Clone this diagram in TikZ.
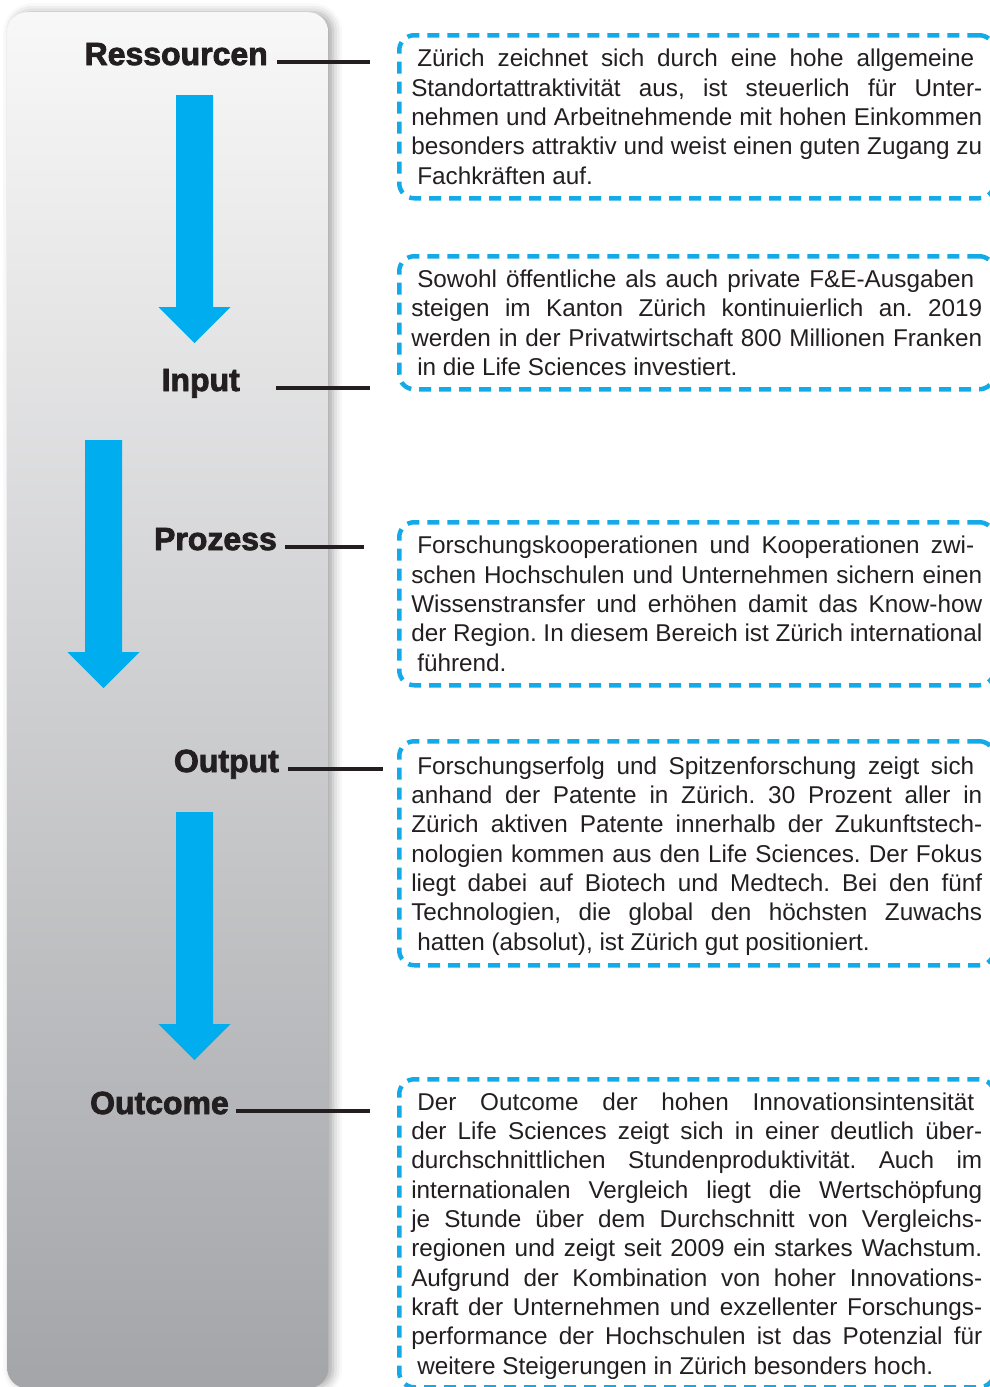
\documentclass[tikz,border=0pt]{standalone}
\usepackage{fontspec}
\setmainfont{Liberation Sans}
\newfontfamily\heavyfont{Liberation Sans}[BoldFeatures={FakeBold=2.5}]
\usepackage{tikz}
\usetikzlibrary{positioning, shadows.blur}
\definecolor{zh-ink}{RGB}{35,31,32}
\definecolor{zh-cyan}{RGB}{0,174,239}
\definecolor{zh-dash}{RGB}{20,170,232}
\definecolor{zh-top}{RGB}{248,248,248}
\definecolor{zh-bottom}{RGB}{164,165,169}
% justified lines of the text boxes
\newcommand\jfull[1]{\makebox[571pt][s]{#1}}
\newcommand\jfirst[1]{\hspace*{6pt}\makebox[557pt][s]{#1}}
\newcommand\jlast[1]{\hspace*{6pt}\smash{#1}}
\tikzset{
  lz@panel/.style={
    rectangle, rounded corners=20pt, inner sep=0pt, anchor=north west,
    minimum width=321pt, minimum height=1376pt,
    top color=zh-top, bottom color=zh-bottom,
    blur shadow={shadow xshift=5pt, shadow yshift=0pt,
                 shadow blur radius=9pt, shadow opacity=35}
  },
  lz@stage/.style={
    anchor=base east, inner sep=0pt, text=zh-ink,
    font=\heavyfont\bfseries\fontsize{32}{36}\selectfont
  },
  lz@info/.style={
    draw=zh-dash, line width=4.5pt, dash pattern=on 12pt off 8pt,
    rounded corners=15pt, minimum width=595pt, inner sep=0pt,
    anchor=north west, align=left, text=zh-ink,
    font=\fontsize{24.3}{29.33}\selectfont\frenchspacing
  },
  lz@lead/.style={draw=zh-ink, line width=4pt},
  lz@down/.pic={
    \fill[zh-cyan] (-18.5,0) -- (-18.5,212) -- (-36,212) -- (0,248)
      -- (36,212) -- (18.5,212) -- (18.5,0) -- cycle;
  },
}

\begin{document}
\begin{tikzpicture}[x=1pt, y=-1pt]
  \useasboundingbox (0,0) rectangle (990,1387);
  \clip (0,0) rectangle (990,1387);
  \node[lz@panel] (panel) at (7,12) {};
  \node[lz@stage] (lres) at (268,65)   {Ressourcen};
  \node[lz@stage] (linp) at (240,391)  {Input};
  \node[lz@stage] (lpro) at (277,550)  {Prozess};
  \node[lz@stage] (lout) at (279,772)  {Output};
  \node[lz@stage] (lcom) at (229,1114) {Outcome};
  \draw[lz@lead] (lres.base east) ++(9,-3)  -- ++(93,0);
  \draw[lz@lead] (linp.base east) ++(36,-3) -- ++(94,0);
  \draw[lz@lead] (lpro.base east) ++(8,-3)  -- ++(79,0);
  \draw[lz@lead] (lout.base east) ++(9,-3)  -- ++(95,0);
  \draw[lz@lead] (lcom.base east) ++(7,-3)  -- ++(134,0);
  \pic at (194.5,95)  {lz@down};
  \pic at (103.5,440) {lz@down};
  \pic at (194.5,812) {lz@down};
  \node[lz@info, minimum height=163pt] (tres) at (397,33) {%
    \jfirst{Zürich zeichnet sich durch eine hohe allgemeine}\\
    \jfull{Standortattraktivität aus, ist steuerlich für Unter-}\\
    \jfull{nehmen und Arbeitnehmende mit hohen Einkommen}\\
    \jfull{besonders attraktiv und weist einen guten Zugang zu}\\
    \jlast{Fachkräften auf.}};
  \node[lz@info, minimum height=133pt] (tinp) at (397,254) {%
    \jfirst{Sowohl öffentliche als auch private F\&E-Ausgaben}\\
    \jfull{steigen im Kanton Zürich kontinuierlich an. 2019}\\
    \jfull{werden in der Privatwirtschaft 800 Millionen Franken}\\
    \jlast{in die Life Sciences investiert.}};
  \node[lz@info, minimum height=163pt] (tpro) at (397,520) {%
    \jfirst{Forschungskooperationen und Kooperationen zwi-}\\
    \jfull{schen Hochschulen und Unternehmen sichern einen}\\
    \jfull{Wissenstransfer und erhöhen damit das Know-how}\\
    \jfull{der Region. In diesem Bereich ist Zürich international}\\
    \jlast{führend.}};
  \node[lz@info, minimum height=224pt] (tout) at (397,739) {%
    \jfirst{Forschungserfolg und Spitzenforschung zeigt sich}\\
    \jfull{anhand der Patente in Zürich. 30 Prozent aller in}\\
    \jfull{Zürich aktiven Patente innerhalb der Zukunftstech-}\\
    \jfull{nologien kommen aus den Life Sciences. Der Fokus}\\
    \jfull{liegt dabei auf Biotech und Medtech. Bei den fünf}\\
    \jfull{Technologien, die global den höchsten Zuwachs}\\
    \jlast{hatten (absolut), ist Zürich gut positioniert.}};
  \node[lz@info, minimum height=308pt] (tcom) at (397,1077) {%
    \jfirst{Der Outcome der hohen Innovationsintensität}\\
    \jfull{der Life Sciences zeigt sich in einer deutlich über-}\\
    \jfull{durchschnittlichen Stundenproduktivität. Auch im}\\
    \jfull{internationalen Vergleich liegt die Wertschöpfung}\\
    \jfull{je Stunde über dem Durchschnitt von Vergleichs-}\\
    \jfull{regionen und zeigt seit 2009 ein starkes Wachstum.}\\
    \jfull{Aufgrund der Kombination von hoher Innovations-}\\
    \jfull{kraft der Unternehmen und exzellenter Forschungs-}\\
    \jfull{performance der Hochschulen ist das Potenzial für}\\
    \jlast{weitere Steigerungen in Zürich besonders hoch.}};
\end{tikzpicture}
\end{document}
